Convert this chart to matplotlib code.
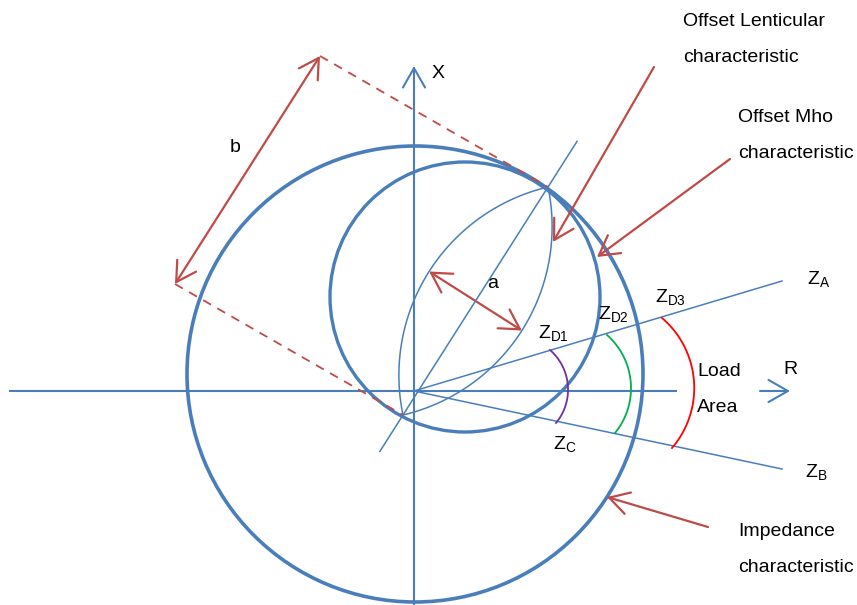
import numpy as np
import matplotlib
matplotlib.use('agg')
import matplotlib.pyplot as plt
from matplotlib.patches import Circle, FancyArrowPatch

plt.rcParams['font.family'] = 'Liberation Sans'
plt.rcParams['mathtext.fontset'] = 'custom'
plt.rcParams['mathtext.rm'] = 'Liberation Sans'

blue = '#4A7EBB'
red = '#BE4B48'

# geometry of the diagram (origin = R/X axes crossing, 1 unit = 1 px)
impedance_center = (1, 17)
impedance_radius = 228
mho_center = (51, 94)
mho_radius = 135
lens_p1 = np.array([-11.0, -24.0])
lens_p2 = np.array([134.0, 204.0])
lens_width = 110          # a
b_offset = np.array([-228.0, 131.0])

za_end = (368, 110)
zb_end = (368, -78)

# load-area arcs: start on ZA, mid on R axis, end on ZB
arc_d1 = [(136, 41), (154, 3), (142, -32)]
arc_d2 = [(193, 56), (217, 4), (201, -42)]
arc_d3 = [(248, 73), (279, 18), (258, -57)]
arc_colors = ['#7030A0', '#00B050', '#FF0000']

fig = plt.figure(figsize=(8.57, 6.05), dpi=100)
ax = fig.add_axes([0, 0, 1, 1])
ax.set_xlim(-414, 443)
ax.set_ylim(-214, 391)
ax.set_aspect('equal')
ax.axis('off')


def arrow(p, q, color, lw, style='->,head_length=0.7,head_width=0.4', ls='-'):
    a = FancyArrowPatch(p, q, arrowstyle=style, mutation_scale=20, color=color,
                        lw=lw, shrinkA=0, shrinkB=0, linestyle=ls)
    ax.add_patch(a)


def arc3(pts, color):
    (x1, y1), (x2, y2), (x3, y3) = pts
    d = 2 * (x1 * (y2 - y3) + x2 * (y3 - y1) + x3 * (y1 - y2))
    ux = ((x1**2 + y1**2) * (y2 - y3) + (x2**2 + y2**2) * (y3 - y1) + (x3**2 + y3**2) * (y1 - y2)) / d
    uy = ((x1**2 + y1**2) * (x3 - x2) + (x2**2 + y2**2) * (x1 - x3) + (x3**2 + y3**2) * (x2 - x1)) / d
    r = np.hypot(x1 - ux, y1 - uy)
    t1 = np.arctan2(y1 - uy, x1 - ux)
    t3 = np.arctan2(y3 - uy, x3 - ux)
    t = np.linspace(t1, t3, 100)
    ax.plot(ux + r * np.cos(t), uy + r * np.sin(t), color=color, lw=1.3)


# axes
ax.plot([-404, 262], [0, 0], color=blue, lw=1.5)
arrow((346, 0), (376, 0), blue, 1.5)
arrow((0, -214), (0, 325), blue, 1.5)
ax.text(18, 318, 'X', fontsize=14, va='center')
ax.text(369, 21, 'R', fontsize=14, va='center')

# impedance and mho circles
ax.add_patch(Circle(impedance_center, impedance_radius, fill=False, ec=blue, lw=2.6))
ax.add_patch(Circle(mho_center, mho_radius, fill=False, ec=blue, lw=2.4))

# lenticular characteristic
chord = lens_p2 - lens_p1
c = np.linalg.norm(chord) / 2
u = chord / (2 * c)
n = np.array([u[1], -u[0]])
mid = (lens_p1 + lens_p2) / 2
s = lens_width / 2
R = (c**2 + s**2) / (2 * s)
for sign in (1, -1):
    cen = mid - sign * (R - s) * n
    ta = np.arctan2(*(lens_p1 - cen)[::-1])
    tb = np.arctan2(*(lens_p2 - cen)[::-1])
    dt = (tb - ta + np.pi) % (2 * np.pi) - np.pi
    t = ta + np.linspace(0, dt, 200)
    ax.plot(cen[0] + R * np.cos(t), cen[1] + R * np.sin(t), color=blue, lw=1.1)

# lens axis
ext = np.array([lens_p1 - 0.16 * chord, lens_p2 + 0.2 * chord])
ax.plot(ext[:, 0], ext[:, 1], color=blue, lw=1.1)

# ZA / ZB
ax.plot([0, za_end[0]], [0, za_end[1]], color=blue, lw=1.1)
ax.plot([0, zb_end[0]], [0, zb_end[1]], color=blue, lw=1.1)

for pts, col in zip([arc_d1, arc_d2, arc_d3], arc_colors):
    arc3(pts, col)

# dimension a and b
arrow(mid - s * n, mid + s * n, red, 1.6, style='<->,head_length=0.7,head_width=0.4')
b1, b2 = lens_p1 + b_offset, lens_p2 + b_offset
arrow(b1, b2, red, 1.6, style='<->,head_length=0.7,head_width=0.4')
ax.plot([b1[0], lens_p1[0]], [b1[1], lens_p1[1]], color=red, lw=1.3, ls=(0, (5, 4)))
ax.plot([b2[0], lens_p2[0]], [b2[1], lens_p2[1]], color=red, lw=1.3, ls=(0, (5, 4)))
ax.text(-179, 243, 'b', fontsize=14, ha='center', va='center')
ax.text(79, 108, 'a', fontsize=14, ha='center', va='center')

# pointer arrows
arrow((240, 324), (139, 149), red, 1.6)
arrow((316, 232), (183, 134), red, 1.6)
arrow((294, -136), (193, -106), red, 1.6)

# labels
ax.text(269, 369, 'Offset Lenticular', fontsize=14, va='center')
ax.text(269, 334, 'characteristic', fontsize=14, va='center')
ax.text(324, 273, 'Offset Mho', fontsize=14, va='center')
ax.text(324, 238, 'characteristic', fontsize=14, va='center')
ax.text(324, -141, 'Impedance', fontsize=14, va='center')
ax.text(324, -176, 'characteristic', fontsize=14, va='center')
ax.text(283, 20, 'Load', fontsize=14, va='center')
ax.text(283, -17, 'Area', fontsize=14, va='center')

zlabels = ['A', 'B', 'C', 'D1', 'D2', 'D3']
zpos = [(393, 111), (391, -82), (139, -54), (124, 57), (184, 76), (241, 93)]
for lab, (x, y) in zip(zlabels, zpos):
    ax.text(x, y, r'$\mathrm{Z}_{\mathrm{%s}}$' % lab, fontsize=14, va='center')

plt.savefig('out.png', dpi=100)
